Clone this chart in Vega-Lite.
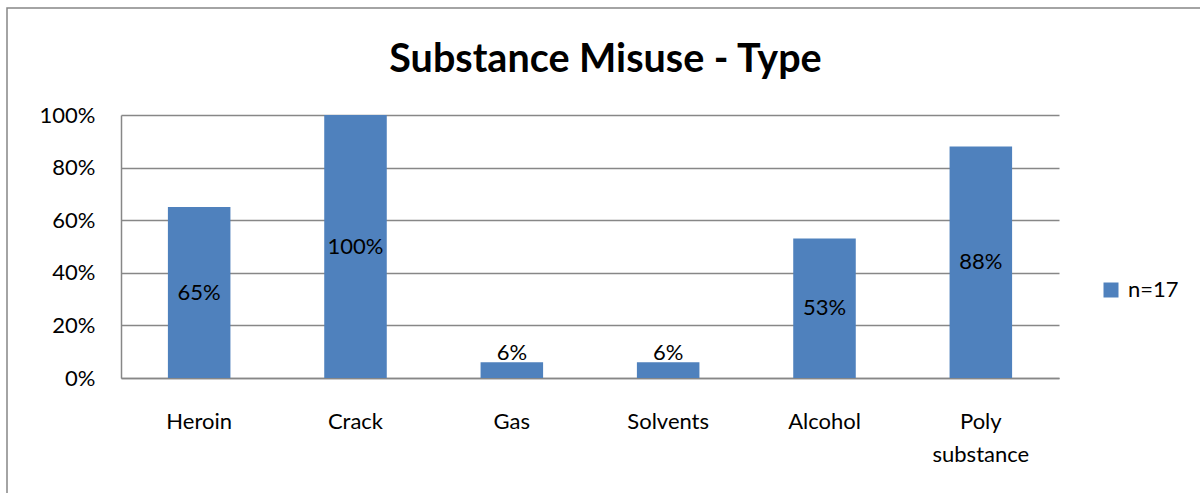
{
  "$schema": "https://vega.github.io/schema/vega-lite/v6.json",
  "autosize": {"type": "none"},
  "padding": {"left": 7, "top": 8, "right": -10, "bottom": -10},
  "width": 1203,
  "height": 495,
  "background": "white",
  "config": {
    "font": "Lato",
    "view": {"stroke": "#878787", "strokeWidth": 1.5},
    "axis": {"labelFont": "Lato", "labelFontSize": 22, "labelColor": "#000000", "title": null}
  },
  "title": {
    "text": "Substance Misuse - Type",
    "font": "Lato",
    "fontSize": 39.5,
    "fontWeight": "bold",
    "color": "#000000",
    "anchor": "middle",
    "baseline": "alphabetic",
    "offset": -64,
    "dy": 39,
    "dx": -3
  },
  "data": {
    "values": [
      {"substance": "Heroin", "share": 0.65, "series": "n=17"},
      {"substance": "Crack", "share": 1.0, "series": "n=17"},
      {"substance": "Gas", "share": 0.06, "series": "n=17"},
      {"substance": "Solvents", "share": 0.06, "series": "n=17"},
      {"substance": "Alcohol", "share": 0.53, "series": "n=17"},
      {"substance": "Poly substance", "share": 0.88, "series": "n=17"}
    ]
  },
  "encoding": {
    "x": {
      "field": "substance",
      "type": "nominal",
      "sort": null,
      "scale": {"range": [114, 1052], "paddingInner": 0.6, "paddingOuter": 0.3},
      "axis": {
        "orient": "bottom",
        "offset": -125,
        "domainColor": "#878787",
        "domainWidth": 1.5,
        "ticks": false,
        "grid": false,
        "labelAngle": 0,
        "labelPadding": 33,
        "labelLineHeight": 33,
        "labelExpr": "split(datum.label, ' ')"
      }
    }
  },
  "layer": [
    {
      "mark": {"type": "bar", "color": "#4F81BD"},
      "encoding": {
        "y": {
          "field": "share",
          "type": "quantitative",
          "scale": {"domain": [0, 1], "range": [370, 107], "nice": false, "zero": true},
          "axis": {
            "orient": "left",
            "offset": -114,
            "values": [0, 0.2, 0.4, 0.6, 0.8, 1],
            "format": ".0%",
            "domainColor": "#878787",
            "domainWidth": 1.5,
            "ticks": false,
            "grid": true,
            "gridColor": "#878787",
            "gridWidth": 1.5,
            "labelPadding": 26
          }
        },
        "color": {
          "field": "series",
          "type": "nominal",
          "scale": {"range": ["#4F81BD"]},
          "legend": {
            "title": null,
            "orient": "none",
            "legendX": 1093,
            "legendY": 271,
            "symbolType": "square",
            "symbolSize": 225,
            "symbolStrokeWidth": 0,
            "labelFont": "Lato",
            "labelFontSize": 22,
            "labelColor": "#000000",
            "labelOffset": 6
          }
        }
      }
    },
    {
      "transform": [
        {"filter": "datum.share >= 0.1"},
        {"calculate": "datum.share / 2", "as": "labelPos"}
      ],
      "mark": {"type": "text", "font": "Lato", "fontSize": 22, "color": "#000000", "baseline": "middle", "align": "center"},
      "encoding": {
        "y": {"field": "labelPos", "type": "quantitative"},
        "text": {"field": "share", "type": "quantitative", "format": ".0%"}
      }
    },
    {
      "transform": [{"filter": "datum.share < 0.1"}],
      "mark": {"type": "text", "font": "Lato", "fontSize": 22, "color": "#000000", "baseline": "alphabetic", "align": "center", "dy": -2},
      "encoding": {
        "y": {"field": "share", "type": "quantitative"},
        "text": {"field": "share", "type": "quantitative", "format": ".0%"}
      }
    }
  ]
}
